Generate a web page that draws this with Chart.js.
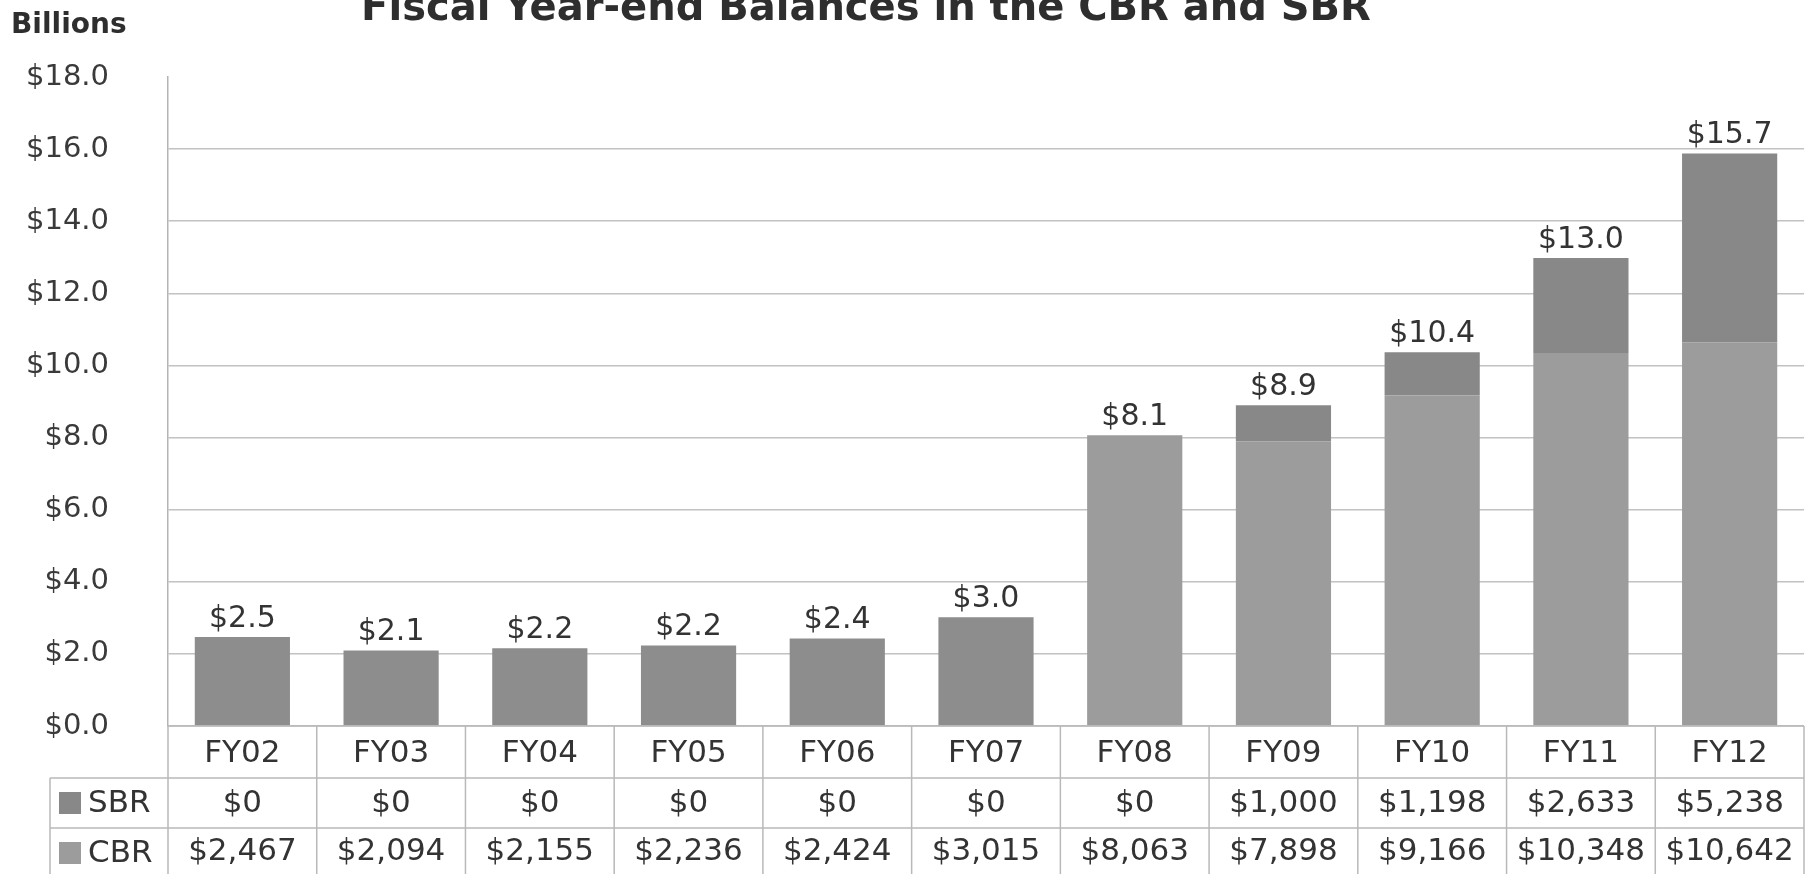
<!DOCTYPE html>
<html lang="en">
<head>
    <meta charset="UTF-8">
    <title>Fiscal Year-end Balances in the CBR and SBR</title>
    <script src="https://cdn.jsdelivr.net/npm/chart.js"></script>
    <style>
        html, body { margin: 0; padding: 0; background: #fff; overflow: hidden; }
        #wrap { position: relative; width: 1813px; height: 874px; }
    </style>
</head>
<body>
    <div id="wrap"><canvas id="balanceChart" width="1813" height="874"></canvas></div>

    <script>
        // values in millions of dollars, as printed in the table
        const years = ['FY02', 'FY03', 'FY04', 'FY05', 'FY06', 'FY07', 'FY08', 'FY09', 'FY10', 'FY11', 'FY12'];
        const sbr = [0, 0, 0, 0, 0, 0, 0, 1000, 1198, 2633, 5238];
        const cbr = [2467, 2094, 2155, 2236, 2424, 3015, 8063, 7898, 9166, 10348, 10642];
        // totals as printed above the bars (billions)
        const totalLabels = ['$2.5', '$2.1', '$2.2', '$2.2', '$2.4', '$3.0', '$8.1', '$8.9', '$10.4', '$13.0', '$15.7'];
        const yTicks = [0, 2, 4, 6, 8, 10, 12, 14, 16, 18];

        const FONT = '"DejaVu Sans", Verdana, sans-serif';
        const sbrColor = '#888888';
        const cbrColor = '#9c9c9c';
        const cbrEarlyColor = '#8d8d8d';

        function money(v) {
            return '$' + v.toLocaleString('en-US');
        }

        // title and "Billions" caption
        const headings = {
            id: 'headings',
            afterDraw(chart) {
                const ctx = chart.ctx;
                ctx.save();
                ctx.fillStyle = '#2e2e2e';
                ctx.textBaseline = 'alphabetic';
                ctx.textAlign = 'center';
                ctx.font = 'bold 40px ' + FONT;
                ctx.fillText('Fiscal Year-end Balances in the CBR and SBR', 866, 20);
                ctx.textAlign = 'left';
                ctx.font = 'bold 28px ' + FONT;
                ctx.fillText('Billions', 11, 33);
                ctx.restore();
            }
        };

        // total labels above each stacked bar
        const totals = {
            id: 'totals',
            afterDatasetsDraw(chart) {
                const ctx = chart.ctx;
                const top = chart.getDatasetMeta(1).data;
                ctx.save();
                ctx.font = '30px ' + FONT;
                ctx.fillStyle = '#333';
                ctx.textAlign = 'center';
                ctx.textBaseline = 'bottom';
                top.forEach((bar, i) => {
                    ctx.fillText(totalLabels[i], bar.x, bar.y - 3);
                });
                ctx.restore();
            }
        };

        // data table under the plot, columns follow the x scale
        const dataTable = {
            id: 'dataTable',
            afterDraw(chart) {
                const ctx = chart.ctx;
                const xs = chart.scales.x;
                const area = chart.chartArea;
                const half = (xs.getPixelForValue(1) - xs.getPixelForValue(0)) / 2;
                const rows = [area.bottom, area.bottom + 52, area.bottom + 102, area.bottom + 152];
                const legendLeft = 50;

                ctx.save();
                ctx.strokeStyle = '#b9b9b9';
                ctx.lineWidth = 1.5;
                ctx.beginPath();
                // horizontal lines
                ctx.moveTo(area.left, rows[0]); ctx.lineTo(area.right, rows[0]);
                ctx.moveTo(legendLeft, rows[1]); ctx.lineTo(area.right, rows[1]);
                ctx.moveTo(legendLeft, rows[2]); ctx.lineTo(area.right, rows[2]);
                // vertical lines
                years.forEach((y, i) => {
                    const xl = xs.getPixelForValue(i) - half;
                    ctx.moveTo(xl, rows[0]); ctx.lineTo(xl, rows[3]);
                });
                ctx.moveTo(area.right, rows[0]); ctx.lineTo(area.right, rows[3]);
                ctx.moveTo(legendLeft, rows[1]); ctx.lineTo(legendLeft, rows[3]);
                ctx.stroke();

                ctx.font = '31px ' + FONT;
                ctx.fillStyle = '#333';
                ctx.textAlign = 'center';
                ctx.textBaseline = 'middle';
                years.forEach((y, i) => {
                    const cx = xs.getPixelForValue(i);
                    ctx.fillText(y, cx, (rows[0] + rows[1]) / 2 + 2);
                    ctx.fillText(money(sbr[i]), cx, (rows[1] + rows[2]) / 2 + 1);
                    ctx.fillText(money(cbr[i]), cx, (rows[2] + rows[3]) / 2 - 1);
                });

                // legend keys
                const keys = [['SBR', sbrColor, rows[1], rows[2]], ['CBR', cbrColor, rows[2], rows[3]]];
                ctx.textAlign = 'left';
                keys.forEach(([name, color, r0, r1]) => {
                    const cy = (r0 + r1) / 2;
                    ctx.fillStyle = color;
                    ctx.fillRect(59, cy - 11, 22, 22);
                    ctx.fillStyle = '#333';
                    ctx.fillText(name, 88, cy + 1);
                });
                ctx.restore();
            }
        };

        new Chart(document.getElementById('balanceChart'), {
            type: 'bar',
            data: {
                labels: years,
                datasets: [
                    {
                        label: 'CBR',
                        data: cbr.map(v => v / 1000),
                        backgroundColor: c => c.dataIndex < 6 ? cbrEarlyColor : cbrColor,
                        barPercentage: 0.64,
                        categoryPercentage: 1.0
                    },
                    {
                        label: 'SBR',
                        data: sbr.map(v => v / 1000),
                        backgroundColor: sbrColor,
                        barPercentage: 0.64,
                        categoryPercentage: 1.0
                    }
                ]
            },
            options: {
                responsive: false,
                animation: false,
                devicePixelRatio: 1,
                layout: { padding: { top: 77, bottom: 148, left: 0, right: 9 } },
                plugins: {
                    legend: { display: false },
                    title: { display: false },
                    tooltip: { enabled: false }
                },
                scales: {
                    x: {
                        stacked: true,
                        ticks: { display: false },
                        grid: { display: false },
                        border: { display: false },
                        afterFit: s => { s.height = 0; }
                    },
                    y: {
                        stacked: true,
                        min: 0,
                        max: 18,
                        afterBuildTicks: s => { s.ticks = yTicks.map(v => ({ value: v })); },
                        afterFit: s => { s.width = 168; },
                        ticks: {
                            padding: 59,
                            color: '#3a3a3a',
                            font: { family: FONT, size: 29 },
                            callback: v => '$' + Number(v).toFixed(1)
                        },
                        grid: {
                            drawTicks: false,
                            lineWidth: 1.5,
                            color: c => c.tick.value === 18 ? 'rgba(0,0,0,0)' : '#c2c2c2'
                        },
                        border: { color: '#b4b4b4', width: 1.5 }
                    }
                }
            },
            plugins: [headings, totals, dataTable]
        });
    </script>
</body>
</html>
